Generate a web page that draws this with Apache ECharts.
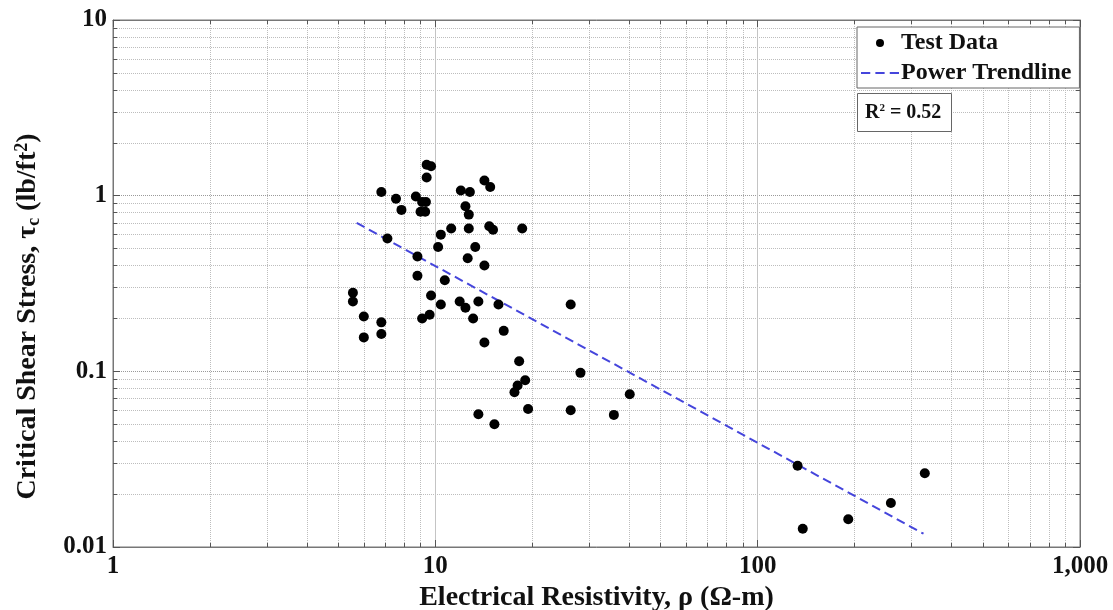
<!DOCTYPE html>
<html>
<head>
<meta charset="utf-8">
<script src="https://cdn.jsdelivr.net/npm/echarts@6/dist/echarts.min.js"></script>
<style>
html,body{margin:0;padding:0;background:#fff;}
#chart{width:1113px;height:610px;}
</style>
</head>
<body>
<div id="chart"></div>
<script>
// Test data: electrical resistivity (ohm-m) vs critical shear stress (lb/ft^2)
const resistivity = [
  9.4, 9.7, 9.4, 14.2, 14.8, 6.8, 12.0, 12.8, 7.55, 8.7,
  9.1, 9.35, 7.85, 12.4, 12.7, 9.0, 9.3, 11.2, 12.7, 14.7,
  15.1, 18.6, 10.4, 7.1, 10.2, 13.3, 8.8, 12.6, 14.2, 8.8,
  10.7, 5.55, 5.55, 9.7, 10.4, 11.9, 13.6, 12.4, 15.7, 26.3,
  6.0, 6.8, 9.1, 9.6, 13.1, 16.3, 6.0, 6.8, 14.2, 18.2,
  28.2, 19.0, 18.0, 17.6, 40.1, 19.4, 26.3, 13.6, 35.8, 15.25,
  133, 330, 259, 191, 138
];
const shearStress = [
  1.5, 1.47, 1.27, 1.22, 1.12, 1.05, 1.07, 1.05, 0.96, 0.99,
  0.92, 0.92, 0.83, 0.87, 0.78, 0.81, 0.81, 0.65, 0.65, 0.67,
  0.64, 0.65, 0.6, 0.57, 0.51, 0.51, 0.45, 0.44, 0.4, 0.35,
  0.33, 0.28, 0.25, 0.27, 0.24, 0.25, 0.25, 0.23, 0.24, 0.24,
  0.205, 0.19, 0.2, 0.21, 0.2, 0.17, 0.156, 0.163, 0.146, 0.114,
  0.098, 0.089, 0.083, 0.076, 0.074, 0.061, 0.06, 0.057, 0.0565, 0.05,
  0.029, 0.0263, 0.0178, 0.0144, 0.0127
];
// Power trendline endpoints
const trendX = [5.7, 327];
const trendY = [0.70, 0.0119];
const rSquared = '0.52';

const xTickLabels = {1: '1', 10: '10', 100: '100', 1000: '1,000'};
const yTickLabels = {0.01: '0.01', 0.1: '0.1', 1: '1', 10: '10'};

const serif = '"Liberation Serif", "DejaVu Serif", serif';
const chart = echarts.init(document.getElementById('chart'));

function fmtX(v){ return xTickLabels[v] !== undefined ? xTickLabels[v] : String(v); }
function fmtY(v){
  for (const k in yTickLabels) { if (Math.abs(Number(k) - v) < 1e-9) return yTickLabels[k]; }
  return String(v);
}

const minorTickCfg = {show: true, splitNumber: 9, length: 4, lineStyle: {color: '#555', width: 1}};
const lineColor = '#4545dc';

chart.setOption({
  backgroundColor: '#fff',
  animation: false,
  grid: {left: 113, right: 33, top: 20, bottom: 63, show: true, borderColor: '#777', borderWidth: 1,
         containLabel: false, outerBoundsMode: 'none'},
  title: {
    text: 'R{sup|2} = ' + rSquared,
    left: 857, top: 93,
    padding: [10, 10, 9, 8],
    borderColor: '#666', borderWidth: 1, backgroundColor: '#fff',
    textStyle: {
      fontFamily: serif, fontWeight: 'bold', fontSize: 20, color: '#111',
      rich: {sup: {fontFamily: serif, fontWeight: 'bold', fontSize: 11, verticalAlign: 'top', padding: [0, 0, 9, 0], color: '#111'}}
    }
  },
  legend: {
    orient: 'vertical', left: 857, top: 27,
    padding: [4, 8, 3, 4], itemGap: 6, itemWidth: 38, itemHeight: 8,
    borderColor: '#666', borderWidth: 1, backgroundColor: '#fff',
    textStyle: {fontFamily: serif, fontWeight: 'bold', fontSize: 24, color: '#111', padding: [0, 0, 0, -3]},
    data: [
      {name: 'Test Data', icon: 'circle'},
      {name: 'Power Trendline', icon: 'path://M0,0h9v2H0zM14,0h9v2H14zM28,0h9v2H28z', itemStyle: {color: lineColor}}
    ]
  },
  xAxis: [{
    type: 'log', logBase: 10, min: 1, max: 1000,
    name: 'Electrical Resistivity, ρ (Ω-m)', nameLocation: 'middle', nameGap: 37,
    nameTextStyle: {fontFamily: serif, fontWeight: 'bold', fontSize: 28, color: '#111'},
    axisLine: {show: true, lineStyle: {color: '#777'}},
    axisTick: {show: true, inside: true, length: 7, lineStyle: {color: '#555'}},
    minorTick: minorTickCfg,
    axisLabel: {formatter: fmtX, margin: 7, fontFamily: serif, fontWeight: 'bold', fontSize: 25, color: '#111'},
    splitLine: {show: true, lineStyle: {color: '#c4c4c4', type: 'solid', width: 1}},
    minorSplitLine: {show: true, lineStyle: {color: '#bdbdbd', type: 'dotted', width: 1}}
  }, {
    type: 'log', logBase: 10, min: 1, max: 1000, position: 'top',
    axisLine: {show: true, lineStyle: {color: '#777'}},
    axisTick: {show: true, inside: true, length: 7, lineStyle: {color: '#555'}},
    minorTick: minorTickCfg,
    axisLabel: {show: false}, splitLine: {show: false}
  }],
  yAxis: [{
    type: 'log', logBase: 10, min: 0.01, max: 10,
    name: 'Critical Shear Stress, τ{sub|c} (lb/ft{sup|2})', nameLocation: 'middle', nameGap: 70,
    nameTextStyle: {
      fontFamily: serif, fontWeight: 'bold', fontSize: 28, color: '#111',
      padding: [0, 66, 0, 0],
      rich: {
        sub: {fontFamily: serif, fontWeight: 'bold', fontSize: 18, color: '#111', verticalAlign: 'bottom', padding: [12, 0, 0, 0]},
        sup: {fontFamily: serif, fontWeight: 'bold', fontSize: 18, color: '#111', verticalAlign: 'top', padding: [0, 0, 12, 0]}
      }
    },
    axisLine: {show: true, lineStyle: {color: '#777'}},
    axisTick: {show: true, inside: true, length: 7, lineStyle: {color: '#555'}},
    minorTick: minorTickCfg,
    axisLabel: {formatter: fmtY, margin: 6, fontFamily: serif, fontWeight: 'bold', fontSize: 25, color: '#111'},
    splitLine: {show: true, lineStyle: {color: '#9a9a9a', type: 'dotted', width: 1}},
    minorSplitLine: {show: true, lineStyle: {color: '#bdbdbd', type: 'dotted', width: 1}}
  }, {
    type: 'log', logBase: 10, min: 0.01, max: 10, position: 'right',
    axisLine: {show: true, lineStyle: {color: '#777'}},
    axisTick: {show: true, inside: true, length: 7, lineStyle: {color: '#555'}},
    minorTick: minorTickCfg,
    axisLabel: {show: false}, splitLine: {show: false}
  }],
  series: [{
    name: 'Test Data', type: 'scatter', symbol: 'circle', symbolSize: 10,
    itemStyle: {color: '#000', opacity: 1},
    data: resistivity.map((x, i) => [x, shearStress[i]]),
    z: 5
  }, {
    name: 'Power Trendline', type: 'line', symbol: 'none',
    lineStyle: {color: lineColor, width: 2, type: [9, 5]},
    itemStyle: {color: lineColor},
    data: trendX.map((x, i) => [x, trendY[i]]),
    z: 4
  }]
});
</script>
</body>
</html>
